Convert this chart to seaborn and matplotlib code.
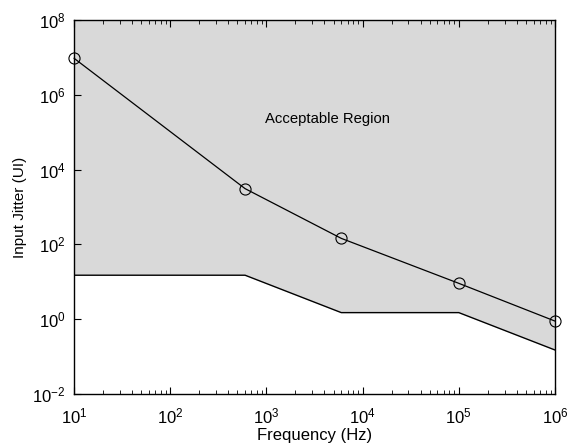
import numpy as np
import pandas as pd
import matplotlib
matplotlib.use("Agg")
import matplotlib.pyplot as plt
import matplotlib.ticker as mticker
import seaborn as sns

# Data
freq_upper = [10, 600, 6000, 1e5, 1e6]
jitter_upper = [9.5e6, 3.1e3, 145, 9.1, 0.89]
freq_lower = [10, 600, 6000, 1e5, 1e6]
jitter_lower = [15, 15, 1.5, 1.5, 0.15]
y_top = 1e8
xticks = [1e1, 1e2, 1e3, 1e4, 1e5, 1e6]
xtick_labels = ["$10^{1}$", "$10^{2}$", "$10^{3}$", "$10^{4}$", "$10^{5}$", "$10^{6}$"]
yticks = [1e-2, 1e0, 1e2, 1e4, 1e6, 1e8]
ytick_labels = ["$10^{-2}$", "$10^{0}$", "$10^{2}$", "$10^{4}$", "$10^{6}$", "$10^{8}$"]

sns.set_style("ticks")
plt.rcParams['font.family'] = ['Liberation Sans', 'DejaVu Sans']
plt.rcParams['mathtext.fontset'] = 'custom'
plt.rcParams['mathtext.rm'] = 'Liberation Sans'
plt.rcParams['mathtext.it'] = 'Liberation Sans'
plt.rcParams['mathtext.bf'] = 'Liberation Sans'
plt.rcParams['text.color'] = 'black'
plt.rcParams['axes.labelcolor'] = 'black'
plt.rcParams['xtick.color'] = 'black'
plt.rcParams['ytick.color'] = 'black'

fig = plt.figure(figsize=(5.75, 4.47), dpi=100)
ax = fig.add_axes([74/575, 1 - 394/447, (555-74)/575, (394-20)/447])

ax.fill_between(freq_lower, jitter_lower, [y_top]*len(freq_lower), color="#d9d9d9", linewidth=0, zorder=0)
ax.plot(freq_lower, jitter_lower, color="black", linewidth=1.0, zorder=2)

df = pd.DataFrame({"freq": freq_upper, "jitter": jitter_upper})
sns.lineplot(data=df, x="freq", y="jitter", ax=ax, color="black", linewidth=0.9,
             marker="o", markersize=8, markerfacecolor="none", markeredgecolor="black",
             markeredgewidth=0.8, zorder=3, clip_on=False)

ax.set_xscale("log")
ax.set_yscale("log")
ax.set_xlim(10, 1e6)
ax.set_ylim(1e-2, 1e8)

ax.set_xticks(xticks)
ax.set_xticklabels(xtick_labels, fontsize=12)
ax.set_yticks(yticks)
ax.set_yticklabels(ytick_labels, fontsize=12)
ax.xaxis.set_minor_locator(mticker.LogLocator(base=10, subs=np.arange(2, 10)))
ax.xaxis.set_minor_formatter(mticker.NullFormatter())
ax.yaxis.set_minor_locator(mticker.NullLocator())

ax.tick_params(which="both", direction="in", top=True, right=False, color="black")
ax.tick_params(axis="x", which="major", length=5, width=0.8, pad=9)
ax.tick_params(axis="y", which="major", length=5, width=0.8, pad=6)
ax.tick_params(which="minor", length=3, width=0.6)

for s in ax.spines.values():
    s.set_visible(True)
    s.set_color("black")
    s.set_linewidth(1.0)

ax.set_xlabel("Frequency (Hz)", fontsize=12, labelpad=1, color="black")
ax.set_ylabel("Input Jitter (UI)", fontsize=11, labelpad=4, color="black")

ax.text(4270, 2.2e5, "Acceptable Region", fontsize=10.7, ha="center", va="center", color="black")

fig.savefig("out.png", dpi=100)
